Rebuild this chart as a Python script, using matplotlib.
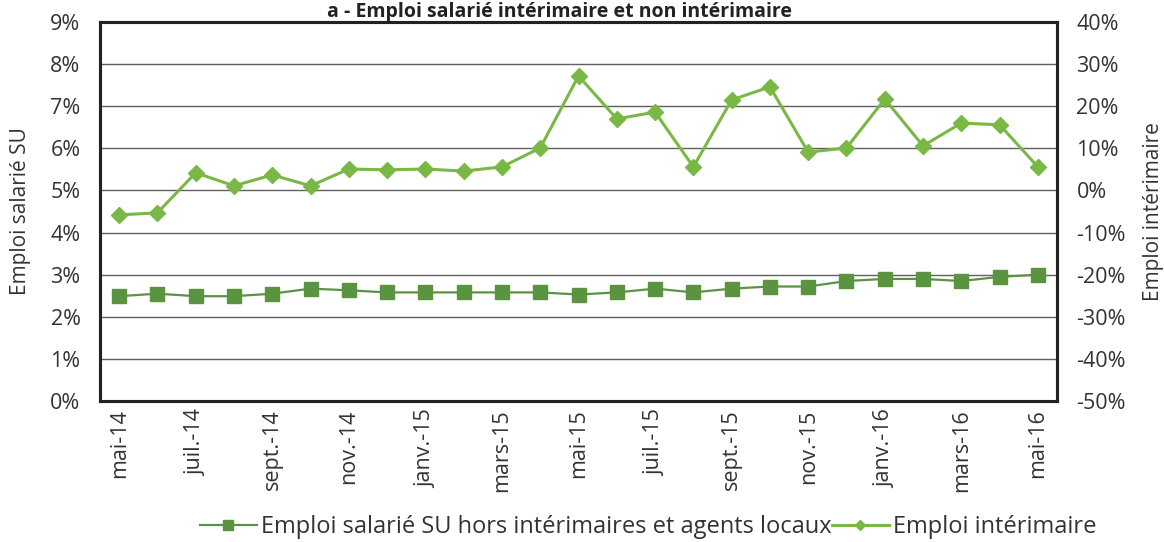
import matplotlib
matplotlib.use('Agg')
import matplotlib.pyplot as plt
import numpy as np

# Mois (mai-14 -> mai-16), une étiquette sur deux
months = ['mai-14', 'juin-14', 'juil.-14', 'août-14', 'sept.-14', 'oct.-14', 'nov.-14',
          'déc.-14', 'janv.-15', 'févr.-15', 'mars-15', 'avr.-15', 'mai-15', 'juin-15',
          'juil.-15', 'août-15', 'sept.-15', 'oct.-15', 'nov.-15', 'déc.-15', 'janv.-16',
          'févr.-16', 'mars-16', 'avr.-16', 'mai-16']

# Emploi salarié SU hors intérimaires et agents locaux (axe gauche, %)
salarie_su = [2.49, 2.55, 2.49, 2.49, 2.55, 2.67, 2.63, 2.58, 2.58, 2.58, 2.58, 2.58,
              2.53, 2.58, 2.67, 2.58, 2.67, 2.72, 2.72, 2.85, 2.90, 2.90, 2.85, 2.95, 3.00]

# Emploi intérimaire (axe droit, %)
interim = [-5.8, -5.3, 4.2, 1.1, 3.7, 1.1, 5.1, 4.9, 5.1, 4.6, 5.6, 10.1,
           27.2, 17.0, 18.6, 5.6, 21.5, 24.6, 9.1, 10.1, 21.7, 10.6, 16.0, 15.6, 5.6]

left_ticks = [0, 1, 2, 3, 4, 5, 6, 7, 8, 9]
right_ticks = [-50, -40, -30, -20, -10, 0, 10, 20, 30, 40]

plt.rcParams['font.family'] = ['Open Sans', 'DejaVu Sans']
TXT = '#333333'
DARK = '#5b9441'
LIGHT = '#79b844'

fig = plt.figure(figsize=(11.64, 5.42), dpi=100)
ax = fig.add_axes([0.0859, 0.260, 0.8222, 0.6994])
ax2 = ax.twinx()

x = np.arange(len(months))

ax.set_ylim(0, 9)
ax.set_yticks(left_ticks)
ax.set_yticklabels([f'{v}%' for v in left_ticks])
ax.set_xlim(-0.5, len(months) - 0.5)
ax.set_xticks(x[::2])
ax.set_xticklabels(months[::2], rotation=90)
ax.grid(axis='y', color='#606060', linewidth=1)
ax.set_axisbelow(True)

l1, = ax.plot(x, salarie_su, color=DARK, linewidth=1.6, marker='s', markersize=9.5,
              label='Emploi salarié SU hors intérimaires et agents locaux', zorder=3)

ax2.set_ylim(-50, 40)
ax2.set_yticks(right_ticks)
ax2.set_yticklabels([f'{v}%' for v in right_ticks])
l2, = ax2.plot(x, interim, color=LIGHT, linewidth=2.2, marker='D', markersize=8,
               label='Emploi intérimaire', zorder=3)

for a in (ax, ax2):
    a.tick_params(length=0, labelsize=15.5, labelcolor=TXT, pad=14)
    for s in a.spines.values():
        s.set_linewidth(2.2)
        s.set_color('#222222')
ax.tick_params(axis='x', pad=6)

ax.set_ylabel('Emploi salarié SU', fontsize=15, color=TXT, labelpad=14)
ax2.set_ylabel('Emploi intérimaire', fontsize=15, color=TXT, labelpad=12)

fig.text(0.481, 0.968, 'a - Emploi salarié intérimaire et non intérimaire',
         ha='center', va='baseline', fontsize=14, fontweight='bold', color='#222222')

fig.legend(handles=[l1, l2], loc='center', bbox_to_anchor=(0.557, 0.027), ncol=2,
           frameon=False, fontsize=17, labelcolor=TXT, handlelength=2.4,
           handletextpad=0.2, columnspacing=0.0, markerscale=0.7)

fig.savefig('out.png', dpi=100)
